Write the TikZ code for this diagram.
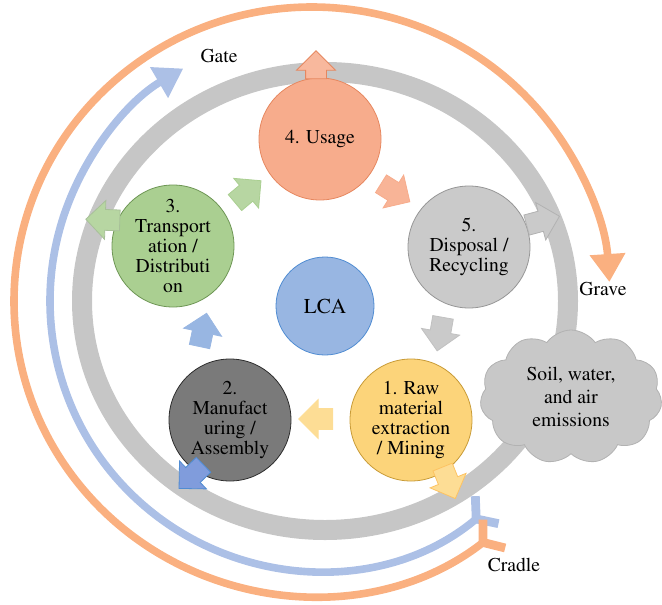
\documentclass[tikz,border=0pt]{standalone}
\usepackage[T1]{fontenc}
\usepackage{mathptmx}
\usetikzlibrary{shapes,shapes.arrows,shapes.symbols,arrows.meta}
\definecolor{ringgray}{RGB}{198,198,198}
\definecolor{cradleblue}{RGB}{172,192,230}
\definecolor{graveorange}{RGB}{250,176,128}
\definecolor{usefill}{RGB}{247,172,140}
\definecolor{usedraw}{RGB}{230,135,95}
\definecolor{dispfill}{RGB}{202,202,202}
\definecolor{dispdraw}{RGB}{150,150,150}
\definecolor{transfill}{RGB}{170,207,145}
\definecolor{transdraw}{RGB}{110,150,85}
\definecolor{lcafill}{RGB}{152,182,226}
\definecolor{lcadraw}{RGB}{80,140,210}
\definecolor{manufill}{RGB}{122,122,122}
\definecolor{manudraw}{RGB}{45,45,45}
\definecolor{manuarrow}{RGB}{128,156,220}
\definecolor{rawfill}{RGB}{252,212,122}
\definecolor{rawdraw}{RGB}{200,155,55}
\definecolor{cloudfill}{RGB}{200,200,200}
\definecolor{clouddraw}{RGB}{178,178,178}
\tikzset{
	stage/.style={circle,draw,thin,minimum size=61pt,inner sep=0,align=center,font=\fontsize{9.8}{10}\selectfont},
	blockarrow/.style={single arrow,draw,thin,inner xsep=0,inner ysep=5pt,minimum height=17pt,single arrow head extend=4.5pt},
	lifelabel/.style={font=\fontsize{9.8}{11}\selectfont},
	lifearc/.style={line width=3.8pt,{Straight Barb[reversed,length=7pt,width=18pt,line width=4.4pt]}-{Triangle[width=17pt,length=14pt]}}
}
\begin{document}
\begin{tikzpicture}[x=0.5pt,y=-0.5pt]
	\useasboundingbox (0,0) rectangle (662,604);
	%%% ring and life cycle arcs
	\draw[ringgray,line width=10pt] (325,301) ellipse [x radius=243,y radius=229];
	\path (318,301) ++(50:268 and 269) coordinate (cradleB);
	\path (312,301) ++(51.5:298 and 294) coordinate (cradleO);
	\draw[cradleblue,lifearc] (cradleB) arc[start angle=50,end angle=239.8,x radius=268,y radius=269];
	\draw[graveorange,lifearc] (cradleO) arc[start angle=51.5,end angle=356.3,x radius=298,y radius=294];
	\node[lifelabel] (gate) at (219,56) {Gate};
	\node[lifelabel] (grave) at (603,289) {Grave};
	\node[lifelabel] (cradle) at (514,565) {Cradle};
	
	%%% emissions
	\node[cloud,cloud puffs=11,cloud puff arc=110,aspect=1.4,draw=clouddraw,fill=cloudfill,minimum width=91pt,minimum height=67pt,align=center,font=\fontsize{9.8}{11.5}\selectfont] (emissions) at (571,397) {Soil, water,\\and air\\emissions};
	
	%%% stages
	\node[stage,fill=usefill,draw=usedraw] (usage) at (320,139) {4. Usage};
	\node[stage,fill=dispfill,draw=dispdraw] (disposal) at (469,247) {5.\\Disposal /\\Recycling};
	\node[stage,fill=transfill,draw=transdraw] (transport) at (173,246) {3.\\Transport\\ation /\\Distributi\\on};
	\node[stage,minimum size=49pt,fill=lcafill,draw=lcadraw,font=\fontsize{10.6}{12}\selectfont] (lca) at (325,306) {LCA};
	\node[stage,fill=manufill,draw=manudraw] (manufacturing) at (230,420) {2.\\Manufact\\uring /\\Assembly};
	\node[stage,fill=rawfill,draw=rawdraw] (raw) at (411,420) {1. Raw\\material\\extraction\\/ Mining};
	
	%%% block arrows
	\node[blockarrow,minimum height=14pt,fill=usefill!85!white,draw=usedraw,rotate=90] (usage-out) at (316,70) {};
	\node[blockarrow,fill=usefill!90!white,draw=usefill,rotate=-32] (usage-disp) at (391,190) {};
	\node[blockarrow,fill=dispfill,draw=clouddraw,rotate=15] (disp-out) at (538,222) {};
	\node[blockarrow,fill=dispfill,draw=clouddraw!80!white,rotate=-100] (disp-raw) at (441,329) {};
	\node[blockarrow,fill=rawfill!80!white,draw=rawfill!80!white,rotate=180] (raw-manu) at (321,419) {};
	\node[blockarrow,fill=rawfill!80!white,draw=rawfill!80!orange,rotate=-68] (raw-out) at (447,478) {};
	\node[blockarrow,fill=manuarrow,draw=lcadraw,rotate=-136] (manu-out) at (195,473) {};
	\node[blockarrow,fill=lcafill,draw=lcafill,rotate=78] (manu-trans) at (202,335) {};
	\node[blockarrow,fill=transfill!85!white,draw=transdraw!60!white,rotate=178] (trans-out) at (108,220) {};
	\node[blockarrow,fill=transfill!85!white,draw=transfill,rotate=40] (trans-usage) at (244,195) {};
\end{tikzpicture}
\end{document}
